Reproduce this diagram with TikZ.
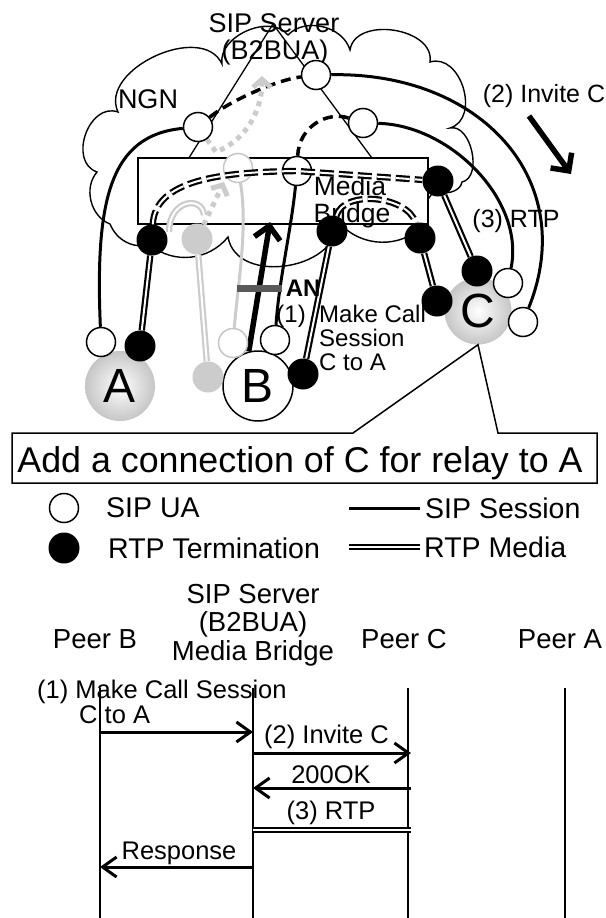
\documentclass[tikz,border=0pt]{standalone}
\usepackage{fontspec}
\setmainfont{Liberation Sans}
\usetikzlibrary{arrows.meta,positioning}
\pgfdeclarelayer{back}
\pgfsetlayers{back,main}
\begin{document}
\begin{tikzpicture}[x=1pt,y=-1pt,
  ua/.style={circle,draw,fill=white,line width=1.5pt,minimum size=29pt,inner sep=0pt},
  rtp/.style={circle,fill=black,minimum size=31pt,inner sep=0pt},
  oldua/.style={ua,draw=gray!45},
  oldrtp/.style={rtp,fill=gray!40},
  peer/.style={circle,minimum size=70pt,inner sep=0pt,font=\fontsize{48}{48}\selectfont},
  glow/.style={peer,shading=radial,inner color=white,outer color=gray!45},
  sip/.style={line width=3pt},
  sipdash/.style={line width=3.5pt,dash pattern=on 10pt off 6pt},
  media/.style={double,line width=2.2pt,double distance=2pt},
  oldmedia/.style={media,draw=gray!40},
  mdash/.style={media,dash pattern=on 14pt off 5pt},
  olddot/.style={draw=gray!40,line width=5pt,dash pattern=on 5pt off 5pt,-{Straight Barb[length=8pt,width=18pt]}},
  big/.style={line width=5.5pt,-{Straight Barb[length=13pt,width=26pt]}},
  lbl/.style={inner sep=0pt,font=\fontsize{25}{25}\selectfont},
  key/.style={lbl,anchor=west,font=\fontsize{28.5}{28.5}\selectfont},
  head/.style={lbl,anchor=base,font=\fontsize{27.5}{27.5}\selectfont},
  note/.style={lbl,font=\fontsize{25.5}{25.5}\selectfont},
  msg/.style={line width=3pt,-{Straight Barb[length=14pt,width=20pt]}},
  life/.style={line width=1.3pt}]
\useasboundingbox (0,0) rectangle (605,918);

% peers
\node[glow] (pa) at (120,386) {A};
\node[peer,draw,fill=white,line width=1.5pt] (pb) at (258,386) {B};
\node[glow,minimum size=67pt] (pc) at (478,311) {C};

% SIP UAs
\node[ua] (ua1) at (316,75) {};
\node[ua] (ua2) at (363,123) {};
\node[ua] (ua3) at (198,127) {};
\node[ua] (ua4) at (297,171) {};
\node[oldua] (uaold) at (238,168) {};
\node[ua] (uaA) at (101,342) {};
\node[ua] (uaB) at (275,340) {};
\node[oldua] (uaBold) at (233,343) {};
\node[ua] (uaC1) at (508,283) {};
\node[ua] (uaC2) at (523,322) {};

% RTP terminations
\node[rtp] (rt1) at (152,240) {};
\node[oldrtp] (rtold) at (197,239) {};
\node[rtp] (rt2) at (332,231) {};
\node[rtp] (rt3) at (420,238) {};
\node[rtp] (rt4) at (438,181) {};
\node[rtp] (rt5) at (477,271) {};
\node[rtp] (rt6) at (437,301) {};
\node[rtp] (rtA) at (140,346) {};
\node[rtp] (rtB) at (303,374) {};
\node[oldrtp] (rtBold) at (208,377) {};

\coordinate (bt) at (270,222);
\coordinate (ia) at (529,116);
\coordinate (ib) at (571,174);
\coordinate (gt) at (224,182);
\coordinate (gk) at (216,152);
\coordinate (gs) at (262,76);
\coordinate (ga1) at (169,232);
\coordinate (ga2) at (204,215);

\begin{pgfonlayer}{back}
% NGN cloud, server, bridge
\draw[line width=1.4pt] (110,224) to[bend left=55] (97,172)
  to[bend left=90,looseness=1.25] (118,112) to[bend left=90,looseness=1.05] (222,64)
  to[bend left=75] (288,35) to[bend left=60] (350,50)
  to[bend left=90,looseness=1.1] (430,62) to[bend left=90,looseness=1.2] (450,128)
  to[bend left=90] (462,182) to[bend left=70] (436,188) -- (424,205) -- (420,228)
  to[bend left=50] (336,218) to[bend left=90,looseness=1.2] (228,237)
  to[bend left=45] (150,245) to[bend left=40] (110,224);
\draw[line width=1.3pt] (273,24) -- (165,196) -- (400,196) -- cycle;
\node[draw,fill=white,line width=1.5pt,minimum width=290pt,minimum height=66pt,inner sep=0pt] (mb) at (283,191) {};
\node[lbl,anchor=base,font=\fontsize{27}{27}\selectfont] (srv) at (274,32) {SIP Server};
\node[lbl,anchor=base,font=\fontsize{27}{27}\selectfont] (b2b) at (275,59) {(B2BUA)};
\node[lbl,anchor=base,font=\fontsize{27}{27}\selectfont] (ngn) at (148,108) {NGN};
\node[lbl,anchor=base,font=\fontsize{26.5}{26.5}\selectfont] (mbl1) at (350,195) {Media};
\node[lbl,anchor=base,font=\fontsize{26.5}{26.5}\selectfont] (mbl2) at (352,222) {Bridge};

% SIP sessions
\draw[sip] (ua1) .. controls +(165,-3) and +(57,-142) .. (uaC2);
\draw[sip] (ua2) .. controls +(87,2) and +(17,-83) .. (uaC1);
\draw[sip] (ua3) .. controls +(-88,8) and +(-6,-142) .. (uaA);
\draw[sip] (ua4) .. controls +(-6,60) and +(4,-60) .. (uaB);
\draw[sipdash] (ua3) .. controls +(30,-25) and +(-40,5) .. (ua1);
\draw[sipdash] (ua2) .. controls +(-35,-12) and +(2,-45) .. (ua4);
\draw[draw=gray!40,line width=3pt] (uaold) .. controls +(10,60) and +(5,-60) .. (uaBold);

% RTP media
\draw[media] (rt1) -- (rtA);
\draw[media] (rt2) -- (rtB);
\draw[media] (rt3) -- (rt6);
\draw[media] (rt4) -- (rt5);
\draw[oldmedia] (rtold) -- (rtBold);
\draw[oldmedia] (ga1) .. controls +(0,-32) and +(-2,-20) .. (ga2);
\draw[olddot] (rtold) -- (gt);
\draw[olddot] (ua3) -- (gk) .. controls +(30,-12) and +(0,35) .. (gs);

% steps
\draw[big] (pb.105) -- (bt);
\draw[big] (ia) -- (ib);
\end{pgfonlayer}

% media through the bridge
\draw[mdash] (rt1) .. controls +(3,-60) and +(-77,1) .. (ua4.center) -- (rt4);
\draw[mdash] (rt2) .. controls +(12,-42) and +(-12,-42) .. (rt3);

\node[fill=black!65,minimum width=45pt,minimum height=7pt,inner sep=0pt] (anbar) at (259,288) {};
\node[lbl,font=\bfseries\fontsize{24}{24}\selectfont,right=4pt of anbar] (an) {AN};
\node[lbl,anchor=base east,font=\fontsize{24}{24}\selectfont] (st1) at (306,322) {(1)};
\node[lbl,anchor=base west,font=\fontsize{24}{24}\selectfont] (st1a) at (319,322) {Make Call};
\node[lbl,anchor=base west,font=\fontsize{24}{24}\selectfont] (st1b) at (319,346) {Session};
\node[lbl,anchor=base west,font=\fontsize{24}{24}\selectfont] (st1c) at (319,370) {C to A};
\node[lbl,anchor=base] (st2) at (544,102) {(2) Invite C};
\node[lbl,anchor=base] (st3) at (516,227) {(3) RTP};

% callout
\draw[line width=1.5pt,fill=white] (12,433) -- (353,433) -- (pc.south) -- (498,433)
  -- (597,433) -- (597,483) -- (12,483) -- cycle;
\node[inner sep=0pt,anchor=base,font=\fontsize{35.8}{35.8}\selectfont] (callout) at (300,472) {Add a connection of C for relay to A};

% legend
\node[ua] (kua) at (64,508) {};
\node[key] (kual) at (106,508) {SIP UA};
\node[rtp] (krtp) at (64,548) {};
\node[key] (krtpl) at (108,548) {RTP Termination};
\coordinate (ks1) at (349,508);
\coordinate (ks2) at (420,508);
\coordinate (km1) at (349,547);
\coordinate (km2) at (420,547);
\draw[sip] (ks1) -- (ks2);
\draw[media] (km1) -- (km2);
\node[key] (ksl) at (425,508) {SIP Session};
\node[key] (kml) at (424,547) {RTP Media};

% sequence
\node[head] (hb) at (95,648) {Peer B};
\node[head] (hs1) at (253,603) {SIP Server};
\node[head] (hs2) at (253,631) {(B2BUA)};
\node[head] (hs3) at (253,660) {Media Bridge};
\node[head] (hc) at (404,648) {Peer C};
\node[head] (ha) at (560,648) {Peer A};
\foreach \x/\n in {100/B,253/S,408/C,565/A}
  \draw[life] (\x,688) coordinate (top\n) -- (\x,918) coordinate (end\n);
\foreach \y/\n in {732/1,753/2,788/3,830/4,867/5} {
  \coordinate (B\n) at (100,\y);
  \coordinate (S\n) at (253,\y);
  \coordinate (C\n) at (411,\y);
}
\draw[msg] (B1) -- (S1);
\draw[msg] (S2) -- (C2);
\draw[msg] (C3) -- (S3);
\draw[media] (S4) -- (C4);
\draw[msg] (S5) -- (B5);
\node[note,anchor=base west] (q1a) at (37,698) {(1) Make Call Session};
\node[note,anchor=base west] (q1b) at (79,723) {C to A};
\node[note,anchor=base west] (q2) at (264,743) {(2) Invite C};
\node[note,anchor=base] (q3) at (331,783) {200OK};
\node[note,anchor=base] (q4) at (331,819) {(3) RTP};
\node[note,anchor=base] (q5) at (179,859) {Response};
\end{tikzpicture}
\end{document}
